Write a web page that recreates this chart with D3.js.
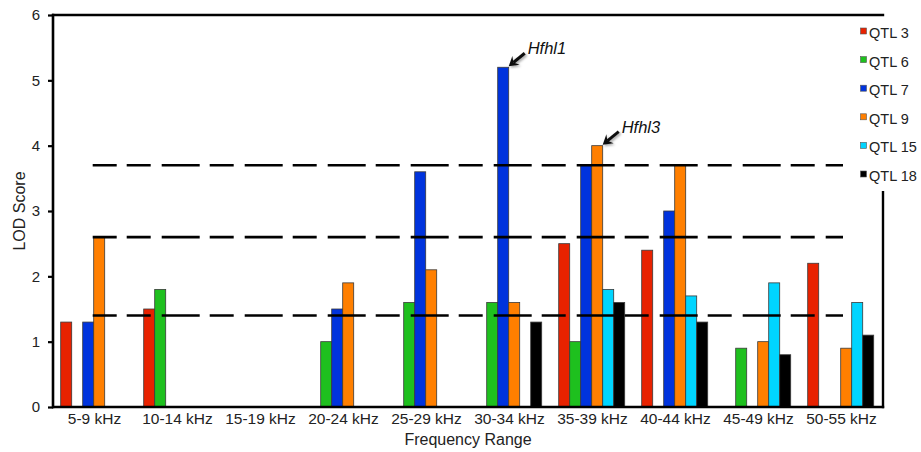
<!DOCTYPE html>
<html><head><meta charset="utf-8">
<script src="https://cdn.jsdelivr.net/npm/d3@7/dist/d3.min.js"></script>
<style>body{margin:0;background:#fff}svg{display:block;font-family:"Liberation Sans",Arial,Helvetica,sans-serif}</style>
</head><body><svg id="c" width="921" height="452"></svg>
<script>
const categories = ["5-9 kHz","10-14 kHz","15-19 kHz","20-24 kHz","25-29 kHz","30-34 kHz","35-39 kHz","40-44 kHz","45-49 kHz","50-55 kHz"];
const seriesNames = ["QTL 3","QTL 6","QTL 7","QTL 9","QTL 15","QTL 18"];
const seriesColors = ["#e82200","#1ec01e","#0033dd","#ff7f00","#00d5ff","#000000"];
const qtl3  = [1.3, 1.5, null, null, null, null, 2.5, 2.4, null, 2.2];
const qtl6  = [null, 1.8, null, 1.0, 1.6, 1.6, 1.0, null, 0.9, null];
const qtl7  = [1.3, null, null, 1.5, 3.6, 5.2, 3.7, 3.0, null, null];
const qtl9  = [2.6, null, null, 1.9, 2.1, 1.6, 4.0, 3.7, 1.0, 0.9];
const qtl15 = [null, null, null, null, null, null, 1.8, 1.7, 1.9, 1.6];
const qtl18 = [null, null, null, null, null, 1.3, 1.6, 1.3, 0.8, 1.1];
const seriesValues = [qtl3, qtl6, qtl7, qtl9, qtl15, qtl18];
const thresholds = [3.7, 2.6, 1.4];
const yTicks = [0,1,2,3,4,5,6];
const annotations = [{label:"Hfhl1", cat:"30-34 kHz", series:"QTL 7", value:5.2},
                     {label:"Hfhl3", cat:"35-39 kHz", series:"QTL 9", value:4.0}];

const svg = d3.select("#c");
const L = 53, R = 883, T = 15, B = 407;
const x = d3.scaleBand().domain(categories).range([L, R]).paddingInner(0).paddingOuter(0);
const xs = d3.scaleBand().domain(seriesNames).range([7.7, 7.7 + 66]).paddingInner(0).paddingOuter(0);
const y = d3.scaleLinear().domain([0, 6]).range([B, T]);

// bars
seriesValues.forEach((vals, si) => {
  svg.append("g").selectAll("rect")
    .data(vals.map((v, i) => ({v, c: categories[i]})).filter(d => d.v != null))
    .join("rect")
    .attr("x", d => x(d.c) + xs(seriesNames[si]))
    .attr("width", xs.bandwidth())
    .attr("y", d => y(d.v))
    .attr("height", d => y(0) - y(d.v))
    .attr("fill", seriesColors[si])
    .attr("stroke", "#3a3a3a")
    .attr("stroke-width", 0.8);
});

// dashed threshold lines
svg.append("g").selectAll("line").data(thresholds).join("line")
  .attr("x1", 92.7).attr("x2", 843)
  .attr("y1", d => y(d)).attr("y2", d => y(d))
  .attr("stroke", "#000").attr("stroke-width", 2.6)
  .attr("stroke-dasharray", "38,10,24,11")
  .attr("stroke-dashoffset", 14);

// y axis
const yAxis = svg.append("g").attr("transform", `translate(${L},0)`)
  .call(d3.axisLeft(y).tickValues(yTicks).tickSize(5).tickPadding(8).tickFormat(d3.format("d")));
yAxis.select(".domain").remove();
yAxis.selectAll(".tick line").attr("stroke-width", 2.2);
yAxis.selectAll(".tick text").attr("font-size", 15).attr("fill", "#222").attr("font-family", "Liberation Sans, Arial, sans-serif");

// x axis labels
const xAxis = svg.append("g").attr("transform", `translate(0,${B})`)
  .call(d3.axisBottom(x).tickSize(0).tickPadding(6));
xAxis.select(".domain").remove();
xAxis.selectAll(".tick text").attr("font-size", 15.5).attr("fill", "#222").attr("font-family", "Liberation Sans, Arial, sans-serif");

// frame
svg.append("line").attr("x1", L).attr("x2", L).attr("y1", T - 1.2).attr("y2", B + 1.2).attr("stroke", "#000").attr("stroke-width", 2.6);
svg.append("line").attr("x1", L - 1).attr("x2", R + 1.2).attr("y1", B).attr("y2", B).attr("stroke", "#000").attr("stroke-width", 2.6);
svg.append("line").attr("x1", L - 1).attr("x2", R + 1.2).attr("y1", T).attr("y2", T).attr("stroke", "#000").attr("stroke-width", 2.6);
svg.append("line").attr("x1", R).attr("x2", R).attr("y1", 191).attr("y2", B + 1.2).attr("stroke", "#000").attr("stroke-width", 2.4);

// axis titles
svg.append("text").attr("x", (L + R) / 2).attr("y", 445).attr("text-anchor", "middle")
  .attr("font-size", 16).attr("fill", "#222").text("Frequency Range");
svg.append("text").attr("transform", `translate(25,${(T + B) / 2}) rotate(-90)`).attr("text-anchor", "middle")
  .attr("font-size", 16).attr("fill", "#222").text("LOD Score");

// legend
const lg = svg.append("g");
seriesNames.forEach((n, i) => {
  const yy = 33 + i * 28.6;
  lg.append("rect").attr("x", 860.5).attr("y", yy - 5).attr("width", 6).attr("height", 6)
    .attr("fill", seriesColors[i]).attr("stroke", "#555").attr("stroke-width", 0.6);
  lg.append("text").attr("x", 869).attr("y", yy + 5).attr("font-size", 14.5).attr("fill", "#222").text(n);
});

// annotations
const defs = svg.append("defs");
const f = defs.append("filter").attr("id", "sh").attr("x", "-50%").attr("y", "-50%").attr("width", "200%").attr("height", "200%");
f.append("feDropShadow").attr("dx", 1.5).attr("dy", 1.5).attr("stdDeviation", 1.2).attr("flood-color", "#000").attr("flood-opacity", 0.35);
annotations.forEach(a => {
  const bx = x(a.cat) + xs(a.series) + xs.bandwidth();
  const by = y(a.value);
  const tipX = bx, tipY = by - 1;
  const tailX = tipX + 16, tailY = tipY - 13;
  const g = svg.append("g").attr("filter", "url(#sh)");
  const ang = Math.atan2(tipY - tailY, tipX - tailX);
  const hl = 11, hw = 0.55;
  g.append("line").attr("x1", tailX).attr("y1", tailY)
    .attr("x2", tipX - Math.cos(ang) * 6).attr("y2", tipY - Math.sin(ang) * 6)
    .attr("stroke", "#111").attr("stroke-width", 3);
  g.append("path").attr("d", d3.line()([
      [tipX, tipY],
      [tipX - hl * Math.cos(ang - hw), tipY - hl * Math.sin(ang - hw)],
      [tipX - hl * 0.55 * Math.cos(ang), tipY - hl * 0.55 * Math.sin(ang)],
      [tipX - hl * Math.cos(ang + hw), tipY - hl * Math.sin(ang + hw)]
    ]) + "Z").attr("fill", "#111");
  svg.append("text").attr("x", tailX + 3).attr("y", tailY + 1).attr("font-size", 16.5)
    .attr("font-style", "italic").attr("fill", "#111").text(a.label);
});
</script></body></html>
